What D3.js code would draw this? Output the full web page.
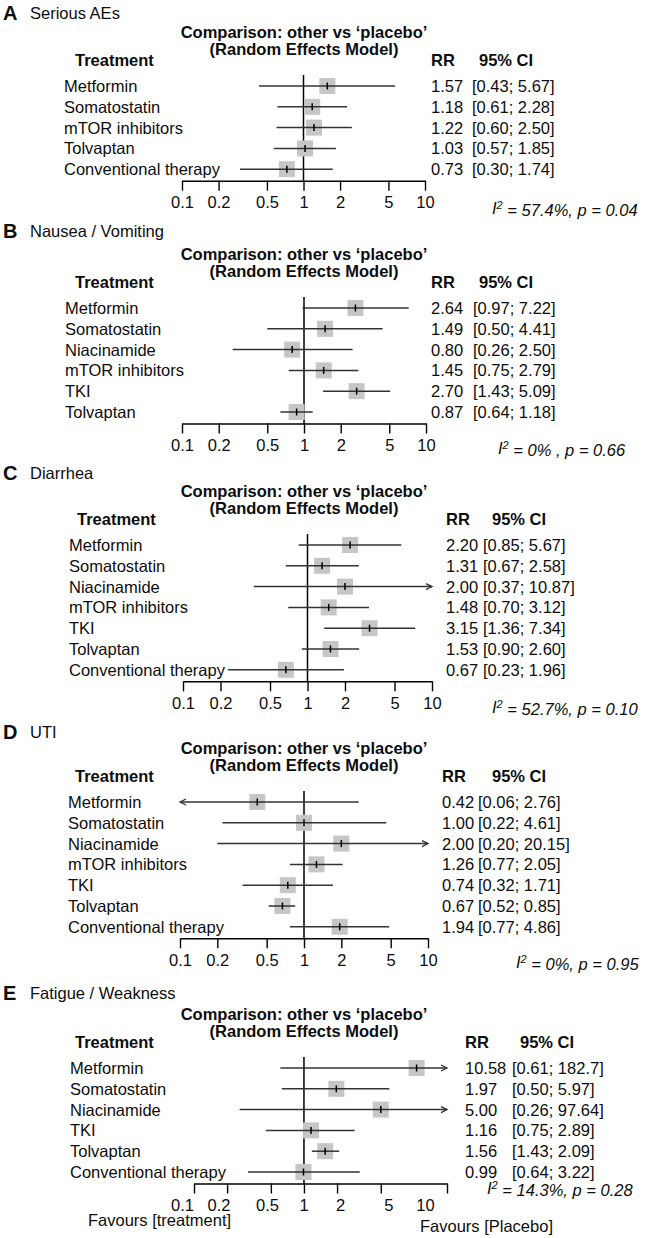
<!DOCTYPE html>
<html>
<head>
<meta charset="utf-8">
<script src="https://cdn.jsdelivr.net/npm/d3@7"></script>
<style>
  body { margin: 0; background: #fff; }
  text { font-family: "Liberation Sans", Arial, sans-serif; font-size: 16.5px; fill: #0d0d0d; }
  .b { font-weight: bold; }
</style>
</head>
<body>
<svg id="chart" width="671" height="1238"></svg>
<script>
// panel labels and outcomes
const letters = ['A', 'B', 'C', 'D', 'E']
const outcomes = ['Serious AEs', 'Nausea / Vomiting', 'Diarrhea', 'UTI', 'Fatigue / Weakness']
const i2Values = ['57.4%', '0% ', '52.7%', '0%', '14.3%']
const pValues = ['0.04', '0.66', '0.10', '0.95', '0.28']

// A - Serious AEs
const treatA = ['Metformin', 'Somatostatin', 'mTOR inhibitors', 'Tolvaptan', 'Conventional therapy']
const rrA = [1.57, 1.18, 1.22, 1.03, 0.73]
const loA = [0.43, 0.61, 0.60, 0.57, 0.30]
const hiA = [5.67, 2.28, 2.50, 1.85, 1.74]
const ciA = ['[0.43; 5.67]', '[0.61; 2.28]', '[0.60; 2.50]', '[0.57; 1.85]', '[0.30; 1.74]']

// B - Nausea / Vomiting
const treatB = ['Metformin', 'Somatostatin', 'Niacinamide', 'mTOR inhibitors', 'TKI', 'Tolvaptan']
const rrB = [2.64, 1.49, 0.80, 1.45, 2.70, 0.87]
const loB = [0.97, 0.50, 0.26, 0.75, 1.43, 0.64]
const hiB = [7.22, 4.41, 2.50, 2.79, 5.09, 1.18]
const ciB = ['[0.97; 7.22]', '[0.50; 4.41]', '[0.26; 2.50]', '[0.75; 2.79]', '[1.43; 5.09]', '[0.64; 1.18]']

// C - Diarrhea
const treatC = ['Metformin', 'Somatostatin', 'Niacinamide', 'mTOR inhibitors', 'TKI', 'Tolvaptan', 'Conventional therapy']
const rrC = [2.20, 1.31, 2.00, 1.48, 3.15, 1.53, 0.67]
const loC = [0.85, 0.67, 0.37, 0.70, 1.36, 0.90, 0.23]
const hiC = [5.67, 2.58, 10.87, 3.12, 7.34, 2.60, 1.96]
const ciC = ['[0.85; 5.67]', '[0.67; 2.58]', '[0.37; 10.87]', '[0.70; 3.12]', '[1.36; 7.34]', '[0.90; 2.60]', '[0.23; 1.96]']

// D - UTI
const treatD = ['Metformin', 'Somatostatin', 'Niacinamide', 'mTOR inhibitors', 'TKI', 'Tolvaptan', 'Conventional therapy']
const rrD = [0.42, 1.00, 2.00, 1.26, 0.74, 0.67, 1.94]
const loD = [0.06, 0.22, 0.20, 0.77, 0.32, 0.52, 0.77]
const hiD = [2.76, 4.61, 20.15, 2.05, 1.71, 0.85, 4.86]
const ciD = ['[0.06; 2.76]', '[0.22; 4.61]', '[0.20; 20.15]', '[0.77; 2.05]', '[0.32; 1.71]', '[0.52; 0.85]', '[0.77; 4.86]']

// E - Fatigue / Weakness (lower ends as drawn in the figure)
const treatE = ['Metformin', 'Somatostatin', 'Niacinamide', 'TKI', 'Tolvaptan', 'Conventional therapy']
const rrE = [10.58, 1.97, 5.00, 1.16, 1.56, 0.99]
const loE = [0.61, 0.63, 0.26, 0.45, 1.18, 0.31]
const hiE = [182.7, 5.97, 97.64, 2.89, 2.09, 3.22]
const ciE = ['[0.61; 182.7]', '[0.50; 5.97]', '[0.26; 97.64]', '[0.75; 2.89]', '[1.43; 2.09]', '[0.64; 3.22]']

// axis
const tickValues = [0.1, 0.2, 0.5, 1, 2, 5, 10]
const tickMarksE = [0.1, 0.2, 0.5, 1, 2, 5, 20]
const tickLabels = ['0.1', '0.2', '0.5', '1', '2', '5', '10']

const series = [
  {treat: treatA, rr: rrA, lo: loA, hi: hiA, ci: ciA},
  {treat: treatB, rr: rrB, lo: loB, hi: hiB, ci: ciB},
  {treat: treatC, rr: rrC, lo: loC, hi: hiC, ci: ciC},
  {treat: treatD, rr: rrD, lo: loD, hi: hiD, ci: ciD},
  {treat: treatE, rr: rrE, lo: loE, hi: hiE, ci: ciE}
]

// layout per panel
const layout = [
  {row1: 86, letterY: 13, range: [182, 425], max: 10, labX: 64, headX: 75, rrX: 431, ciX: 472, ciHX: 479, i2X: 492, i2Y: 208},
  {row1: 308, letterY: 231, range: [182, 426], max: 10, labX: 65, headX: 75, rrX: 431, ciX: 473, ciHX: 479, i2X: 498, i2Y: 448},
  {row1: 545, letterY: 473, range: [183, 432], max: 10, labX: 69, headX: 77, rrX: 446, ciX: 483, ciHX: 492, i2X: 492, i2Y: 707},
  {row1: 802, letterY: 732, range: [180, 428], max: 10, labX: 68, headX: 75, rrX: 442, ciX: 478, ciHX: 492, i2X: 516, i2Y: 962},
  {row1: 1068, letterY: 993, range: [194, 447], max: 20, labX: 70, headX: 75, rrX: 465, ciX: 512, ciHX: 520, i2X: 487, i2Y: 1188,
   labelRange: [182, 425], marks: tickMarksE}
]
const STEP = 20.8, SQ = 16, TITLE_X = 304
const lineCol = '#333'

const svg = d3.select('#chart')

layout.forEach((L, p) => {
  const s = series[p]
  const g = svg.append('g')
  const n = s.treat.length
  const y = i => L.row1 + i * STEP
  const axisY = y(n - 1) + 11.5

  const x = d3.scaleLog().domain([0.1, L.max]).range(L.range)
  const xLab = L.labelRange ? d3.scaleLog().domain([0.1, 10]).range(L.labelRange) : x

  // panel heading
  g.append('text').attr('class', 'b').attr('x', 3).attr('y', L.letterY).attr('dy', '0.36em')
    .style('font-size', '20px').text(letters[p])
  g.append('text').attr('x', 30).attr('y', L.letterY).attr('dy', '0.36em').text(outcomes[p])

  g.append('text').attr('class', 'b').attr('x', TITLE_X).attr('y', L.row1 - 54).attr('dy', '0.36em')
    .attr('text-anchor', 'middle').text('Comparison: other vs \u2018placebo\u2019')
  g.append('text').attr('class', 'b').attr('x', TITLE_X).attr('y', L.row1 - 37).attr('dy', '0.36em')
    .attr('text-anchor', 'middle').text('(Random Effects Model)')

  const hy = L.row1 - 26
  g.append('text').attr('class', 'b').attr('x', L.headX).attr('y', hy).attr('dy', '0.36em').text('Treatment')
  g.append('text').attr('class', 'b').attr('x', L.rrX).attr('y', hy).attr('dy', '0.36em').text('RR')
  g.append('text').attr('class', 'b').attr('x', L.ciHX).attr('y', hy).attr('dy', '0.36em').text('95% CI')

  // reference line at RR = 1
  g.append('line')
    .attr('x1', x(1)).attr('x2', x(1))
    .attr('y1', L.row1 - 11).attr('y2', axisY)
    .attr('stroke', '#000').attr('stroke-width', 1.5)

  const rows = g.selectAll('g.row').data(d3.range(n)).enter().append('g').attr('class', 'row')

  rows.append('text').attr('x', L.labX).attr('y', y).attr('dy', '0.36em').text(i => s.treat[i])
  rows.append('text').attr('x', L.rrX).attr('y', y).attr('dy', '0.36em').text(i => s.rr[i].toFixed(2))
  rows.append('text').attr('x', L.ciX).attr('y', y).attr('dy', '0.36em').text(i => s.ci[i])

  const [d0, d1] = x.domain()
  const xl = i => x(Math.max(s.lo[i], d0))
  const xh = i => x(Math.min(s.hi[i], d1))

  rows.append('rect')
    .attr('x', i => x(s.rr[i]) - SQ / 2).attr('y', i => y(i) - SQ / 2)
    .attr('width', SQ).attr('height', SQ)
    .attr('fill', '#c6c6c6')

  rows.append('line')
    .attr('x1', xl).attr('x2', xh)
    .attr('y1', y).attr('y2', y)
    .attr('stroke', lineCol).attr('stroke-width', 1.5)

  rows.append('line')
    .attr('x1', i => x(s.rr[i])).attr('x2', i => x(s.rr[i]))
    .attr('y1', i => y(i) - 3.5).attr('y2', i => y(i) + 3.5)
    .attr('stroke', '#000').attr('stroke-width', 1.5)

  // arrows for CIs beyond the axis
  rows.filter(i => s.hi[i] > d1).append('path')
    .attr('d', i => `M${xh(i) - 6},${y(i) - 3}L${xh(i)},${y(i)}L${xh(i) - 6},${y(i) + 3}`)
    .attr('fill', 'none').attr('stroke', lineCol).attr('stroke-width', 1.3)
  rows.filter(i => s.lo[i] < d0).append('path')
    .attr('d', i => `M${xl(i) + 6},${y(i) - 3}L${xl(i)},${y(i)}L${xl(i) + 6},${y(i) + 3}`)
    .attr('fill', 'none').attr('stroke', lineCol).attr('stroke-width', 1.3)

  // axis: tick marks
  const marks = L.marks || tickValues
  const ax = g.append('g').attr('transform', `translate(0,${axisY})`)
    .call(d3.axisBottom(x).tickValues(marks).tickSize(10).tickSizeOuter(0).tickFormat(''))
  ax.selectAll('path, line').attr('stroke', '#000').attr('stroke-width', 1.4)

  // axis: labels
  const axl = g.append('g').attr('transform', `translate(0,${axisY})`)
    .call(d3.axisBottom(xLab).tickValues(tickValues).tickSize(0).tickPadding(16)
      .tickFormat((d, i) => tickLabels[i]))
  axl.select('.domain').remove()
  axl.selectAll('text').attr('font-family', null).attr('font-size', null).attr('fill', null)

  // heterogeneity
  const t = g.append('text').attr('x', L.i2X).attr('y', L.i2Y).attr('dy', '0.36em')
    .style('font-style', 'italic')
  t.append('tspan').text('I')
  t.append('tspan').attr('dy', '-0.45em').style('font-size', '11px').text('2')
  t.append('tspan').attr('dy', '0.45em').text(` = ${i2Values[p]}, p = ${pValues[p]}`)
})

// favours labels under the last panel
svg.append('text').attr('x', 88).attr('y', 1220).attr('dy', '0.36em').text('Favours [treatment]')
svg.append('text').attr('x', 420).attr('y', 1226).attr('dy', '0.36em').text('Favours [Placebo]')
</script>
</body>
</html>
